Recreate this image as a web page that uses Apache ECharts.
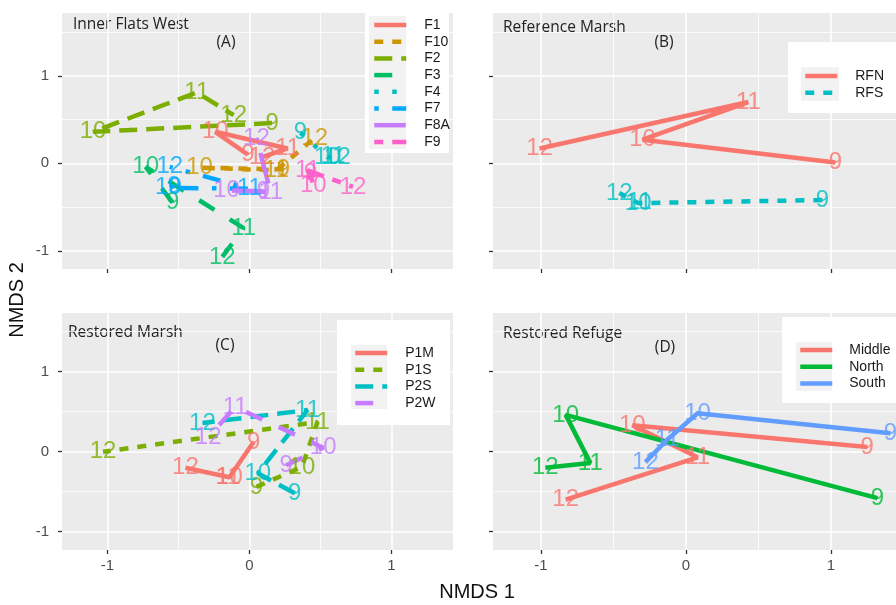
<!DOCTYPE html>
<html>
<head>
<meta charset="utf-8">
<script src="https://cdn.jsdelivr.net/npm/echarts@6/dist/echarts.min.js"></script>
<style>
  html, body { margin: 0; background: #fff; }
  #chart { width: 896px; height: 605px; }
</style>
</head>
<body>
<div id="chart"></div>
<script>
// month labels shown at each point, in path order
const months = ['9', '10', '11', '12']

// (A) Inner Flats West
const flatsNames = ['F1', 'F10', 'F2', 'F3', 'F4', 'F7', 'F8A', 'F9']
const F1 = [[-0.01, 0.10], [-0.24, 0.36], [0.27, 0.17], [0.09, 0.07]]
const F10 = [[0.24, -0.07], [-0.35, -0.05], [0.19, -0.08], [0.46, 0.29]]
const F2 = [[0.16, 0.46], [-1.10, 0.36], [-0.37, 0.81], [-0.11, 0.55]]
const F3 = [[-0.54, -0.45], [-0.73, -0.04], [-0.04, -0.74], [-0.19, -1.07]]
const F4 = [[0.36, 0.35], [0.55, 0.07], [0.59, 0.08], [0.62, 0.07]]
const F7 = [[-0.53, -0.26], [-0.57, -0.28], [0.00, -0.29], [-0.56, -0.04]]
const F8A = [[0.10, -0.32], [-0.16, -0.31], [0.15, -0.33], [0.05, 0.29]]
const F9 = [[0.43, -0.12], [0.45, -0.25], [0.41, -0.08], [0.73, -0.27]]

// (B) Reference Marsh
const refNames = ['RFN', 'RFS']
const RFN = [[1.03, 0.01], [-0.30, 0.27], [0.43, 0.70], [-1.01, 0.17]]
const RFS = [[0.94, -0.42], [-0.33, -0.455], [-0.32, -0.45], [-0.46, -0.34]]

// (C) Restored Marsh
const marshNames = ['P1M', 'P1S', 'P2S', 'P2W']
const P1M = [[0.03, 0.12], [-0.14, -0.32], [-0.15, -0.315], [-0.45, -0.20]]
const P1S = [[0.05, -0.44], [0.37, -0.19], [0.48, 0.37], [-1.03, 0.00]]
const P2S = [[0.32, -0.52], [0.06, -0.27], [0.41, 0.52], [-0.33, 0.36]]
const P2W = [[0.26, -0.17], [0.52, 0.05], [-0.10, 0.56], [-0.29, 0.18]]

// (D) Restored Refuge
const refugeNames = ['Middle', 'North', 'South']
const Middle = [[1.25, 0.06], [-0.37, 0.33], [0.08, -0.07], [-0.83, -0.60]]
const North = [[1.32, -0.58], [-0.83, 0.46], [-0.66, -0.14], [-0.97, -0.20]]
const South = [[1.41, 0.23], [0.08, 0.48], [-0.13, 0.15], [-0.28, -0.13]]

// axis ticks
const majorTicks = [-1, 0, 1]
const minorTicks = [-0.5, 0.5, 1.5]

// ggplot hue palettes and linetypes
const hue8 = ['#F8766D', '#CD9600', '#7CAE00', '#00BE67', '#00BFC4', '#00A9FF', '#C77CFF', '#FF61CC']
const hue2 = ['#F8766D', '#00BFC4']
const hue4 = ['#F8766D', '#7CAE00', '#00BFC4', '#C77CFF']
const hue3 = ['#F8766D', '#00BA38', '#619CFF']
const linetypes = ['solid', [9, 9], [18, 9], [18, 18], [4.5, 13.5], [4.5, 13.5, 18, 13.5], [31.5, 13.5], [9, 9, 27, 9]]

const labelFont = 'Liberation Sans Narrow, Liberation Sans, Arial, sans-serif'
const textFont = 'Open Sans, Noto Sans, sans-serif'

const panels = [
  {
    names: flatsNames, points: [F1, F10, F2, F3, F4, F7, F8A, F9], colors: hue8, types: linetypes,
    grid: { left: 62, top: 13, width: 391, height: 256 }, x: [-1.319, 1.434], y: [-1.208, 1.718],
    xLabels: false, yLabels: true,
    legend: { left: 365, top: 10, padding: [8, 12, 8, 7], textPad: 13 },
    box: [365, 10, 84, 143], keys: [369, 16, 37, 133]
  },
  {
    names: refNames, points: [RFN, RFS], colors: hue2, types: linetypes,
    grid: { left: 493, top: 13, width: 403, height: 256 }, x: [-1.331, 1.448], y: [-1.208, 1.718],
    xLabels: false, yLabels: false,
    legend: { left: 788, top: 42, padding: [27, 20, 14, 15], textPad: 13 },
    box: [788, 42, 110, 71], keys: [801, 67, 38, 34]
  },
  {
    names: marshNames, points: [P1M, P1S, P2S, P2W], colors: hue4, types: linetypes,
    grid: { left: 62, top: 313, width: 391, height: 237 }, x: [-1.319, 1.434], y: [-1.229, 1.734],
    xLabels: true, yLabels: true,
    legend: { left: 337, top: 320, padding: [26, 12, 17, 16], textPad: 13 },
    box: [337, 320, 113, 105], keys: [351, 345, 36, 64]
  },
  {
    names: refugeNames, points: [Middle, North, South], colors: hue3, types: ['solid', 'solid', 'solid'],
    grid: { left: 493, top: 313, width: 403, height: 237 }, x: [-1.331, 1.448], y: [-1.229, 1.734],
    xLabels: true, yLabels: false,
    legend: { left: 782, top: 317, padding: [26, 20, 14, 16], textPad: 12 },
    box: [782, 317, 116, 86], keys: [796, 342, 36, 49]
  }
]

const axisCommon = (show) => ({
  type: 'value',
  axisLine: { show: false, onZero: false },
  axisTick: { show: true, customValues: majorTicks, length: 4, lineStyle: { color: '#333', width: 1.3 } },
  axisLabel: { show, customValues: majorTicks, fontSize: 15, color: '#4D4D4D', fontFamily: labelFont },
  splitLine: { show: false }
})

const series = []
panels.forEach((p, i) => {
  // white grid lines through the library's scales
  const inRange = (v, r) => v > r[0] && v < r[1]
  const gridLines = []
  majorTicks.filter(v => inRange(v, p.x)).forEach(v => gridLines.push({ xAxis: v, lineStyle: { width: 1.6 } }))
  minorTicks.filter(v => inRange(v, p.x)).forEach(v => gridLines.push({ xAxis: v, lineStyle: { width: 0.8 } }))
  majorTicks.filter(v => inRange(v, p.y)).forEach(v => gridLines.push({ yAxis: v, lineStyle: { width: 1.6 } }))
  minorTicks.filter(v => inRange(v, p.y)).forEach(v => gridLines.push({ yAxis: v, lineStyle: { width: 0.8 } }))
  series.push({
    type: 'line', name: 'grid' + i, xAxisIndex: i, yAxisIndex: i, data: [], silent: true, z: 1,
    markLine: {
      silent: true, symbol: 'none', z: 1, animation: false, label: { show: false },
      lineStyle: { color: '#fff', type: 'solid' },
      data: gridLines
    }
  })

  p.names.forEach((name, k) => {
    const color = p.colors[k]
    series.push({
      type: 'line', name, xAxisIndex: i, yAxisIndex: i, data: p.points[k],
      symbol: 'none', z: 2, silent: true,
      lineStyle: { color, width: 4.5, type: p.types[k] },
      itemStyle: { color }
    })
    series.push({
      type: 'scatter', name: name + ' labels', xAxisIndex: i, yAxisIndex: i,
      data: p.points[k].map((pt, m) => [pt[0], pt[1], months[m]]),
      symbolSize: 1, z: 3, silent: true,
      itemStyle: { color: 'rgba(0,0,0,0)' },
      label: {
        show: true, position: 'inside', formatter: (d) => d.value[2],
        color, fontSize: 24, fontFamily: 'Liberation Sans, Arial, sans-serif'
      }
    })
  })
})

const annotations = [
  ['Inner Flats West', 73, 25, 'left'], ['(A)', 226, 43, 'center'],
  ['Reference Marsh', 503, 28, 'left'], ['(B)', 664, 43, 'center'],
  ['Restored Marsh', 68, 333, 'left'], ['(C)', 225, 346, 'center'],
  ['Restored Refuge', 503, 334, 'left'], ['(D)', 665, 348, 'center']
]

// legend boxes (white) with grey key backgrounds, drawn over the panels
const legendBoxes = []
panels.forEach(p => {
  legendBoxes.push({ type: 'rect', z: 4, silent: true,
    shape: { x: p.box[0], y: p.box[1], width: p.box[2], height: p.box[3] }, style: { fill: '#fff' } })
  legendBoxes.push({ type: 'rect', z: 4, z2: 1, silent: true,
    shape: { x: p.keys[0], y: p.keys[1], width: p.keys[2], height: p.keys[3] }, style: { fill: '#F2F2F2' } })
})

const chart = echarts.init(document.getElementById('chart'))
chart.setOption({
  animation: false,
  grid: panels.map(p => ({ ...p.grid, show: true, backgroundColor: '#EBEBEB', borderWidth: 0 })),
  xAxis: panels.map((p, i) => ({ ...axisCommon(p.xLabels), gridIndex: i, min: p.x[0], max: p.x[1],
    axisLabel: { ...axisCommon(p.xLabels).axisLabel, margin: 8 } })),
  yAxis: panels.map((p, i) => ({ ...axisCommon(p.yLabels), gridIndex: i, min: p.y[0], max: p.y[1],
    axisLabel: { ...axisCommon(p.yLabels).axisLabel, margin: 13 } })),
  legend: panels.map(p => ({
    data: p.names, orient: 'vertical', left: p.legend.left, top: p.legend.top,
    padding: p.legend.padding, z: 6,
    itemWidth: 32, itemHeight: 14, itemGap: 2.7, selectedMode: false,
    itemStyle: { opacity: 0 },
    lineStyle: { width: 4.5 },
    textStyle: { fontSize: 14, color: '#1A1A1A', fontFamily: labelFont, padding: [0, 0, 0, p.legend.textPad] }
  })),
  graphic: [
    ...legendBoxes,
    ...annotations.map(([text, x, y, align]) => ({
      type: 'text', x, y, silent: true,
      style: { text, align, verticalAlign: 'middle', fontSize: 15.5, fontFamily: textFont, fill: '#222' }
    })),
    { type: 'text', x: 477, y: 592, silent: true,
      style: { text: 'NMDS 1', align: 'center', verticalAlign: 'middle', fontSize: 20, fontFamily: labelFont, fill: '#111' } },
    { type: 'text', x: 17, y: 300, rotation: Math.PI / 2, silent: true,
      style: { text: 'NMDS 2', align: 'center', verticalAlign: 'middle', fontSize: 20, fontFamily: labelFont, fill: '#111' } }
  ],
  series
})
</script>
</body>
</html>
